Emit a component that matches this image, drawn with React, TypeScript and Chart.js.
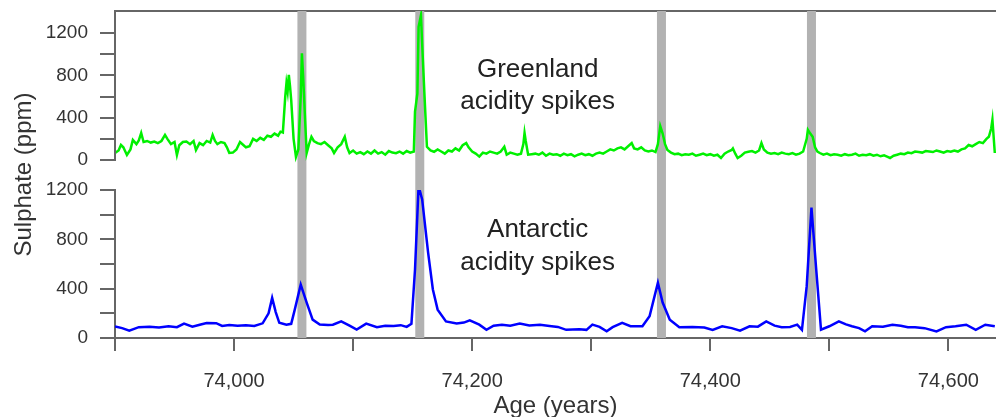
import React, { useEffect, useRef } from 'react';
import { Chart, registerables } from 'chart.js';

Chart.register(...registerables);

// ---- axes ----
const X_MIN = 73900;
const X_MAX = 74640;
const X_TICKS = [73900, 74000, 74100, 74200, 74300, 74400, 74500, 74600];
const X_LABELED = [74000, 74200, 74400, 74600];
const Y_TICKS = [0, 200, 400, 600, 800, 1000, 1200];
const Y_LABELED = [0, 400, 800, 1200];
const G_MIN = -284;
const G_MAX = 1410;
const A_MIN = 0;
const A_MAX = 1200;

// ---- highlighted events (years) ----
const EVENT_YEARS = [74057, 74156, 74359, 74485];

// ---- Greenland sulphate (ppm) ----
const GREEN_YEARS = [
  73900, 73903, 73905, 73907, 73910, 73913, 73915, 73918, 73920, 73922, 73924, 73927, 73930, 73933, 73936, 73939,
  73942, 73944, 73947, 73950, 73952, 73954, 73957, 73960, 73963, 73966, 73968, 73971, 73974, 73977, 73980, 73982,
  73984, 73986, 73989, 73992, 73994, 73996, 73999, 74002, 74005, 74008, 74010, 74013, 74016, 74019, 74022, 74025,
  74028, 74031, 74034, 74037, 74039, 74041, 74043, 74044, 74045, 74046, 74047, 74048, 74050, 74052, 74054, 74056,
  74057, 74058, 74060, 74061, 74063, 74065, 74067, 74070, 74073, 74076, 74079, 74082, 74084, 74087, 74090, 74093,
  74095, 74097, 74100, 74103, 74106, 74109, 74112, 74115, 74118, 74121, 74124, 74127, 74130, 74133, 74136, 74139,
  74142, 74145, 74148, 74151, 74152, 74154, 74155, 74157, 74158, 74160, 74162, 74165, 74168, 74171, 74174, 74177,
  74180, 74183, 74186, 74189, 74192, 74195, 74197, 74200, 74203, 74206, 74209, 74212, 74215, 74218, 74221, 74224,
  74227, 74229, 74232, 74235, 74238, 74241, 74243, 74244, 74245, 74247, 74250, 74253, 74256, 74259, 74262, 74265,
  74268, 74271, 74274, 74277, 74280, 74283, 74286, 74289, 74292, 74295, 74298, 74301, 74304, 74307, 74310, 74313,
  74316, 74319, 74322, 74325, 74328, 74331, 74334, 74336, 74339, 74342, 74345, 74348, 74351, 74354, 74356, 74358,
  74360, 74362, 74364, 74367, 74370, 74373, 74376, 74379, 74382, 74385, 74388, 74391, 74394, 74397, 74400, 74403,
  74406, 74409, 74412, 74415, 74418, 74419, 74421, 74423, 74426, 74429, 74432, 74435, 74438, 74441, 74443, 74445,
  74448, 74451, 74454, 74457, 74460, 74463, 74466, 74469, 74472, 74475, 74478, 74481, 74482, 74484, 74486, 74488,
  74490, 74492, 74495, 74498, 74501, 74504, 74507, 74510, 74513, 74516, 74519, 74522, 74525, 74528, 74531, 74534,
  74537, 74540, 74543, 74546, 74549, 74551, 74554, 74557, 74560, 74563, 74566, 74569, 74572, 74575, 74578, 74581,
  74584, 74587, 74590, 74593, 74596, 74599, 74602, 74605, 74608, 74611, 74614, 74617, 74620, 74623, 74626, 74629,
  74632, 74634, 74636, 74637, 74639,
];
const GREEN_PPM = [
  66, 90, 142, 120, 47, 100, 190, 150, 185, 255, 170, 180, 165, 175, 160, 180,
  237, 200, 150, 170, 47, 140, 170, 175, 150, 180, 95, 160, 140, 180, 165, 237,
  180, 150, 170, 160, 120, 66, 70, 100, 170, 140, 120, 130, 200, 180, 210, 190,
  230, 220, 250, 230, 268, 260, 600, 726, 650, 805, 700, 568, 200, 30, 100, 600,
  1010, 800, 300, 66, 150, 220, 180, 160, 150, 170, 140, 110, 66, 120, 150, 220,
  120, 66, 90, 60, 75, 55, 80, 60, 90, 60, 75, 50, 85, 70, 65, 80,
  60, 85, 70, 80, 458, 630, 1260, 1370, 1100, 600, 125, 90, 78, 100, 80, 60,
  90, 80, 110, 90, 140, 160, 120, 80, 60, 32, 70, 60, 80, 70, 60, 80,
  125, 50, 70, 60, 50, 60, 150, 256, 180, 50, 55, 60, 50, 70, 40, 60,
  50, 55, 40, 60, 45, 55, 35, 50, 60, 45, 55, 40, 60, 70, 60, 80,
  100, 90, 110, 120, 100, 130, 160, 110, 100, 120, 90, 80, 90, 75, 150, 320,
  250, 150, 95, 70, 55, 60, 45, 55, 50, 60, 40, 50, 60, 45, 55, 40,
  50, 19, 60, 80, 95, 110, 60, 19, 40, 70, 78, 85, 70, 90, 160, 100,
  70, 60, 65, 55, 70, 60, 55, 65, 50, 60, 80, 200, 285, 250, 220, 120,
  80, 66, 50, 60, 45, 55, 50, 40, 55, 45, 50, 60, 40, 50, 45, 55,
  40, 50, 35, 45, 30, 19, 40, 50, 60, 55, 70, 65, 80, 75, 70, 85,
  80, 75, 90, 80, 70, 85, 78, 90, 80, 100, 110, 142, 130, 150, 170, 160,
  200, 220, 300, 380, 66,
];

// ---- Antarctic sulphate (ppm) ----
const BLUE_YEARS = [
  73900, 73906, 73912, 73920, 73929, 73937, 73945, 73952, 73958, 73965, 73972, 73977, 73985, 73990, 73996, 74003,
  74010, 74017, 74024, 74029, 74032, 74035, 74038, 74044, 74048, 74051, 74056, 74061, 74066, 74072, 74079, 74083,
  74090, 74097, 74103, 74111, 74120, 74127, 74134, 74140, 74145, 74149, 74152, 74155, 74158, 74163, 74167, 74171,
  74178, 74187, 74193, 74198, 74206, 74212, 74218, 74225, 74232, 74240, 74248, 74257, 74265, 74272, 74279, 74290,
  74296, 74301, 74307, 74313, 74318, 74326, 74333, 74343, 74349, 74356, 74360, 74366, 74374, 74385, 74395, 74402,
  74410, 74418, 74425, 74433, 74440, 74447, 74454, 74460, 74467, 74473, 74477, 74481, 74485, 74489, 74493, 74500,
  74508, 74514, 74519, 74525, 74530, 74536, 74545, 74553, 74560, 74566, 74572, 74580, 74590, 74598, 74606, 74615,
  74623, 74631, 74639,
];
const BLUE_PPM = [
  94, 80, 59, 88, 92, 85, 95, 88, 117, 92, 110, 122, 120, 98, 105, 100,
  103, 98, 119, 200, 325, 210, 123, 108, 115, 230, 433, 287, 149, 110, 105, 108,
  135, 100, 68, 117, 88, 100, 98, 104, 90, 116, 555, 1232, 1124, 693, 393, 230,
  135, 117, 125, 143, 108, 66, 100, 108, 100, 117, 102, 108, 98, 90, 66, 70,
  66, 108, 90, 54, 88, 122, 95, 95, 176, 447, 287, 149, 88, 90, 85, 66,
  95, 80, 59, 95, 92, 135, 100, 88, 90, 108, 66, 420, 1057, 555, 68, 95,
  135, 110, 95, 80, 54, 95, 92, 108, 100, 88, 88, 80, 54, 88, 95, 108,
  66, 108, 95,
];

// ---- text annotations (anchored in data units) ----
const LABEL_X = 74255;
const G_LABEL_LINES = ['Greenland', 'acidity spikes'];
const G_LABEL_Y = [786, 485];
const A_LABEL_LINES = ['Antarctic', 'acidity spikes'];
const A_LABEL_Y = [820, 555];
const Y_TITLE = 'Sulphate (ppm)';
const X_TITLE = 'Age (years)';

const FONT = "'Liberation Sans', Arial, sans-serif";
const AXIS_COLOR = '#666';
const TEXT_COLOR = '#333';

const decorPlugin = {
  id: 'decor',
  afterDraw(chart: any) {
    const { ctx, chartArea, scales } = chart;
    const x = scales.x;
    const yG = scales.yG;
    const yA = scales.yA;
    ctx.save();
    // Greenland axis line (from top of panel down to 0)
    ctx.strokeStyle = AXIS_COLOR;
    ctx.lineWidth = 2;
    ctx.beginPath();
    ctx.moveTo(chartArea.left, yG.getPixelForValue(G_MAX));
    ctx.lineTo(chartArea.left, yG.getPixelForValue(0) + 1);
    ctx.stroke();

    // annotation text
    ctx.fillStyle = '#222';
    ctx.font = `26px ${FONT}`;
    ctx.textAlign = 'center';
    ctx.textBaseline = 'alphabetic';
    const cx = x.getPixelForValue(LABEL_X);
    G_LABEL_LINES.forEach((t, i) => ctx.fillText(t, cx, yG.getPixelForValue(G_LABEL_Y[i])));
    A_LABEL_LINES.forEach((t, i) => ctx.fillText(t, cx, yA.getPixelForValue(A_LABEL_Y[i])));

    // y title
    ctx.fillStyle = TEXT_COLOR;
    ctx.font = `24px ${FONT}`;
    ctx.translate(24, (chartArea.top + chartArea.bottom) / 2);
    ctx.rotate(-Math.PI / 2);
    ctx.textBaseline = 'middle';
    ctx.fillText(Y_TITLE, 0, 0);
    ctx.restore();
  },
};

export default function App() {
  const ref = useRef<HTMLCanvasElement | null>(null);

  useEffect(() => {
    if (!ref.current) return;
    const eventSets: any[] = [];
    EVENT_YEARS.forEach((yr) => {
      eventSets.push({
        type: 'line',
        data: [{ x: yr, y: G_MIN }, { x: yr, y: G_MAX }],
        yAxisID: 'yG',
        borderColor: 'rgb(178,178,178)',
        borderWidth: 9,
        borderCapStyle: 'butt',
        pointRadius: 0,
        order: 5,
      });
      eventSets.push({
        type: 'line',
        data: [{ x: yr, y: A_MIN }, { x: yr, y: A_MAX }],
        yAxisID: 'yA',
        borderColor: 'rgb(178,178,178)',
        borderWidth: 9,
        borderCapStyle: 'butt',
        pointRadius: 0,
        order: 5,
      });
    });

    const yTickCfg = (labeledCheck: (v: number) => boolean) => ({
      autoSkip: false,
      color: TEXT_COLOR,
      font: { family: FONT, size: 19 },
      padding: 12,
      callback: (v: any) => (labeledCheck(Number(v)) ? String(v) : ''),
    });

    const noPad = (s: any) => {
      s.paddingTop = 0;
      s.paddingBottom = 0;
    };

    const chart = new Chart(ref.current, {
      type: 'line',
      data: {
        datasets: [
          ...eventSets,
          {
            label: 'Greenland',
            data: GREEN_YEARS.map((x, i) => ({ x, y: GREEN_PPM[i] })),
            yAxisID: 'yG',
            borderColor: '#00f000',
            borderWidth: 2.5,
            pointRadius: 0,
            tension: 0,
            order: 1,
          },
          {
            label: 'Antarctic',
            data: BLUE_YEARS.map((x, i) => ({ x, y: BLUE_PPM[i] })),
            yAxisID: 'yA',
            borderColor: '#0000ff',
            borderWidth: 2.5,
            pointRadius: 0,
            tension: 0,
            order: 1,
          },
        ],
      },
      options: {
        responsive: false,
        animation: false,
        parsing: true,
        layout: { padding: 0 },
        plugins: { legend: { display: false }, tooltip: { enabled: false } },
        scales: {
          x: {
            type: 'linear',
            position: 'bottom',
            min: X_MIN,
            max: X_MAX,
            afterBuildTicks: (s: any) => {
              s.ticks = X_TICKS.map((value) => ({ value }));
            },
            afterFit: (s: any) => {
              s.height = 79;
              s.paddingLeft = 0;
              s.paddingRight = 0;
            },
            ticks: {
              autoSkip: false,
              maxRotation: 0,
              color: TEXT_COLOR,
              font: { family: FONT, size: 20 },
              padding: 18,
              callback: (v: any) => (X_LABELED.includes(Number(v)) ? Number(v).toLocaleString('en-US') : ''),
            },
            grid: { drawOnChartArea: false, drawTicks: true, tickLength: 13, color: AXIS_COLOR, lineWidth: 2 },
            border: { display: true, color: AXIS_COLOR, width: 2 },
            title: { display: true, text: X_TITLE, color: TEXT_COLOR, font: { family: FONT, size: 24 }, padding: { top: 0, bottom: -4 } },
          },
          xTop: {
            type: 'linear',
            position: 'top',
            min: X_MIN,
            max: X_MAX,
            afterFit: (s: any) => {
              s.height = 11;
              s.paddingLeft = 0;
              s.paddingRight = 0;
            },
            ticks: { display: false },
            grid: { display: false, drawTicks: false },
            border: { display: true, color: AXIS_COLOR, width: 2 },
          },
          yA: {
            type: 'linear',
            position: 'left',
            stack: 'v',
            stackWeight: 148,
            min: A_MIN,
            max: A_MAX,
            afterBuildTicks: (s: any) => {
              s.ticks = Y_TICKS.map((value) => ({ value }));
            },
            afterFit: (s: any) => {
              s.width = 115;
              noPad(s);
            },
            ticks: yTickCfg((v) => Y_LABELED.includes(v)),
            grid: { drawOnChartArea: false, drawTicks: true, tickLength: 15, color: AXIS_COLOR, lineWidth: 2 },
            border: { display: true, color: AXIS_COLOR, width: 2 },
          },
          yG: {
            type: 'linear',
            position: 'left',
            stack: 'v',
            stackWeight: 179,
            min: G_MIN,
            max: G_MAX,
            afterBuildTicks: (s: any) => {
              s.ticks = Y_TICKS.map((value) => ({ value }));
            },
            afterFit: (s: any) => {
              s.width = 115;
              noPad(s);
            },
            ticks: yTickCfg((v) => Y_LABELED.includes(v)),
            grid: { drawOnChartArea: false, drawTicks: true, tickLength: 15, color: AXIS_COLOR, lineWidth: 2 },
            border: { display: false },
          },
        },
      } as any,
      plugins: [decorPlugin],
    });
    return () => chart.destroy();
  }, []);

  return (
    <div style={{ position: 'fixed', left: 0, top: 0, width: 996, height: 417, background: '#fff' }}>
      <canvas ref={ref} width={996} height={417} style={{ width: 996, height: 417, display: 'block' }} />
    </div>
  );
}
